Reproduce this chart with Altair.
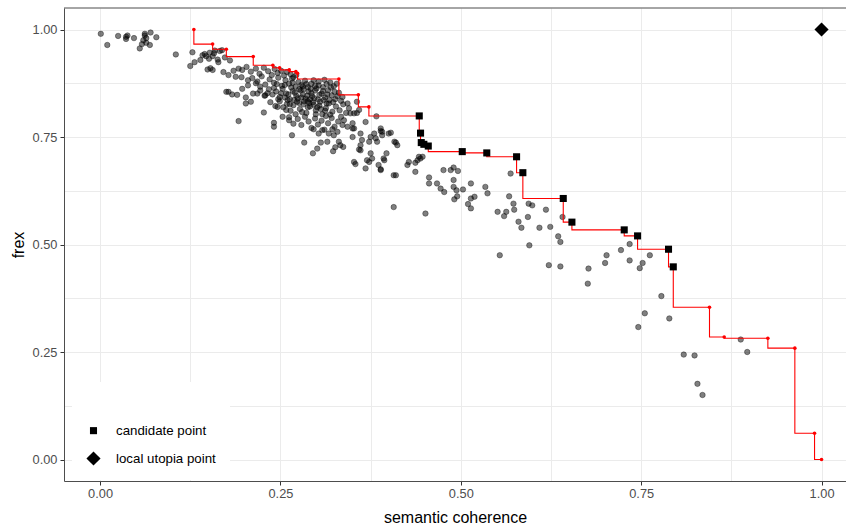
import altair as alt
import pandas as pd

# ---------------- data ----------------
# top-left group
tl_coh = [0.001, 0.010, 0.025, 0.036, 0.038, 0.036, 0.047, 0.055, 0.058, 0.062, 0.062, 0.064, 0.064, 0.070, 0.069, 0.078, 0.060]
tl_frex = [0.990, 0.964, 0.985, 0.983, 0.986, 0.978, 0.980, 0.956, 0.966, 0.990, 0.986, 0.980, 0.969, 0.993, 0.964, 0.982, 0.975]

# upper band 0.10-0.21
up_coh = [0.105, 0.128, 0.125, 0.131, 0.139, 0.142, 0.145, 0.151, 0.152, 0.156, 0.158, 0.159, 0.164, 0.166, 0.169,
          0.163, 0.149, 0.153, 0.156, 0.171, 0.178, 0.185, 0.192, 0.197, 0.196, 0.188, 0.205, 0.173, 0.180, 0.147]
up_frex = [0.942, 0.947, 0.915, 0.924, 0.929, 0.940, 0.943, 0.932, 0.946, 0.938, 0.945, 0.951, 0.924, 0.950, 0.952,
           0.930, 0.907, 0.910, 0.906, 0.901, 0.894, 0.904, 0.909, 0.906, 0.889, 0.890, 0.882, 0.935, 0.928, 0.938]

# lower-left edge of the cluster
ll_coh = [0.175, 0.178, 0.183, 0.190, 0.192, 0.202, 0.202, 0.209, 0.205, 0.197, 0.212, 0.227, 0.218, 0.229, 0.216, 0.222]
ll_frex = [0.855, 0.855, 0.849, 0.848, 0.787, 0.842, 0.828, 0.832, 0.870, 0.862, 0.851, 0.807, 0.851, 0.847, 0.875, 0.867]

# dense core, upper rows
core_a_coh = [0.203, 0.209, 0.216, 0.221, 0.227, 0.233, 0.238, 0.242, 0.246, 0.251, 0.255, 0.259, 0.264, 0.268, 0.272,
              0.211, 0.218, 0.224, 0.229, 0.235, 0.241, 0.247, 0.252, 0.257, 0.262, 0.266, 0.271, 0.275, 0.279, 0.284,
              0.288, 0.293, 0.298, 0.303, 0.309, 0.314, 0.319, 0.324, 0.328, 0.245, 0.281, 0.296, 0.311]
core_a_frex = [0.913, 0.902, 0.909, 0.897, 0.911, 0.903, 0.894, 0.908, 0.899, 0.904, 0.893, 0.901, 0.896, 0.889, 0.894,
               0.887, 0.879, 0.891, 0.872, 0.884, 0.876, 0.888, 0.869, 0.882, 0.874, 0.886, 0.867, 0.878, 0.871, 0.881,
               0.866, 0.874, 0.869, 0.879, 0.866, 0.873, 0.877, 0.868, 0.874, 0.873, 0.868, 0.882, 0.883]

# dense core, middle rows
core_b_coh = [0.222, 0.228, 0.234, 0.239, 0.244, 0.249, 0.253, 0.258, 0.263, 0.267, 0.272, 0.276, 0.281, 0.285, 0.289,
              0.294, 0.298, 0.302, 0.307, 0.312, 0.316, 0.321, 0.326, 0.331, 0.336, 0.261, 0.279, 0.292, 0.304, 0.318,
              0.269, 0.287,
              0.236, 0.243, 0.249, 0.254, 0.259, 0.264, 0.268, 0.273, 0.277, 0.282, 0.286, 0.291, 0.295, 0.299, 0.304,
              0.308, 0.313, 0.317, 0.322, 0.327, 0.332, 0.337, 0.341, 0.288, 0.301, 0.319, 0.271]
core_b_frex = [0.858, 0.846, 0.861, 0.849, 0.856, 0.843, 0.862, 0.851, 0.838, 0.857, 0.846, 0.861, 0.849, 0.839, 0.856,
               0.845, 0.858, 0.837, 0.851, 0.842, 0.859, 0.847, 0.838, 0.853, 0.843, 0.849, 0.842, 0.862, 0.848, 0.836,
               0.836, 0.846,
               0.831, 0.822, 0.833, 0.819, 0.827, 0.811, 0.824, 0.832, 0.815, 0.826, 0.806, 0.821, 0.831, 0.812, 0.823,
               0.803, 0.817, 0.828, 0.809, 0.821, 0.812, 0.826, 0.806, 0.833, 0.819, 0.802, 0.803]

# dense core, lower rows and fill-in of the darkest part
core_c_coh = [0.262, 0.268, 0.274, 0.279, 0.284, 0.289, 0.293, 0.298, 0.302, 0.307, 0.311, 0.316, 0.321, 0.325, 0.330,
              0.334, 0.296, 0.313,
              0.251, 0.256, 0.260, 0.265, 0.270, 0.274, 0.278, 0.283, 0.286, 0.290, 0.293, 0.297, 0.300, 0.305, 0.309,
              0.314, 0.315, 0.320, 0.323, 0.329, 0.256, 0.263, 0.267, 0.276, 0.282, 0.288, 0.291, 0.296, 0.303, 0.306,
              0.310, 0.325, 0.334, 0.247, 0.241, 0.232, 0.258, 0.280, 0.299, 0.312]
core_c_frex = [0.796, 0.781, 0.792, 0.778, 0.797, 0.786, 0.771, 0.793, 0.779, 0.788, 0.767, 0.782, 0.794, 0.774, 0.786,
               0.797, 0.768, 0.799,
               0.852, 0.871, 0.836, 0.865, 0.853, 0.840, 0.858, 0.833, 0.873, 0.829, 0.852, 0.840, 0.863, 0.832, 0.857,
               0.828, 0.849, 0.865, 0.831, 0.845, 0.842, 0.826, 0.876, 0.829, 0.861, 0.819, 0.838, 0.825, 0.870, 0.815,
               0.836, 0.855, 0.834, 0.838, 0.864, 0.852, 0.813, 0.808, 0.803, 0.811]

# middle band 0.24-0.45
mid_coh = [0.283, 0.295, 0.301, 0.306, 0.315, 0.323, 0.326, 0.333, 0.337, 0.331, 0.303, 0.308, 0.317, 0.322, 0.324,
           0.329, 0.343, 0.345, 0.347, 0.338, 0.336, 0.343, 0.350, 0.352, 0.356, 0.361, 0.363, 0.361, 0.368, 0.359,
           0.373, 0.375, 0.380, 0.382, 0.384, 0.389, 0.391, 0.400, 0.410, 0.412, 0.352, 0.354, 0.368, 0.370, 0.373,
           0.377, 0.375, 0.389, 0.386, 0.393, 0.397, 0.410, 0.426, 0.428, 0.437, 0.440, 0.442, 0.383, 0.266, 0.241,
           0.241, 0.253, 0.262, 0.246, 0.352, 0.356, 0.359, 0.350, 0.361, 0.350, 0.389, 0.391, 0.403, 0.408, 0.394,
           0.389, 0.407, 0.444, 0.447, 0.437]
mid_frex = [0.737, 0.712, 0.723, 0.737, 0.739, 0.717, 0.726, 0.731, 0.727, 0.739, 0.758, 0.766, 0.758, 0.768, 0.754,
            0.762, 0.828, 0.817, 0.805, 0.789, 0.778, 0.774, 0.782, 0.770, 0.806, 0.758, 0.743, 0.731, 0.785, 0.721,
            0.739, 0.750, 0.758, 0.747, 0.739, 0.764, 0.754, 0.758, 0.737, 0.731, 0.692, 0.687, 0.677, 0.696, 0.692,
            0.700, 0.712, 0.675, 0.685, 0.700, 0.712, 0.661, 0.685, 0.692, 0.669, 0.696, 0.704, 0.798, 0.754, 0.783,
            0.774, 0.797, 0.789, 0.820, 0.805, 0.832, 0.813, 0.770, 0.719, 0.750, 0.770, 0.762, 0.760, 0.739, 0.696,
            0.673, 0.661, 0.700, 0.704, 0.690]

# lower-middle band 0.40-0.66
lm_coh = [0.451, 0.456, 0.456, 0.467, 0.472, 0.477, 0.476, 0.486, 0.490, 0.496, 0.490, 0.490, 0.494, 0.491, 0.495,
          0.503, 0.514, 0.510, 0.514, 0.514, 0.519, 0.534, 0.537, 0.554, 0.551, 0.560, 0.563, 0.567, 0.573, 0.574,
          0.569, 0.580, 0.584, 0.594, 0.599, 0.593, 0.609, 0.618, 0.624, 0.635, 0.638, 0.595, 0.622, 0.638, 0.641,
          0.407]
lm_frex = [0.572, 0.656, 0.642, 0.642, 0.630, 0.622, 0.673, 0.673, 0.679, 0.671, 0.650, 0.634, 0.626, 0.605, 0.612,
           0.628, 0.642, 0.594, 0.584, 0.607, 0.611, 0.634, 0.619, 0.475, 0.576, 0.566, 0.576, 0.612, 0.595, 0.581,
           0.665, 0.553, 0.539, 0.595, 0.591, 0.564, 0.539, 0.581, 0.541, 0.519, 0.506, 0.498, 0.452, 0.449, 0.564,
           0.587]

# right tail
rt_coh = [0.677, 0.676, 0.702, 0.700, 0.722, 0.734, 0.734, 0.748, 0.752, 0.762, 0.778, 0.755, 0.746, 0.789, 0.809,
          0.824, 0.828, 0.835, 0.888, 0.897]
rt_frex = [0.444, 0.409, 0.475, 0.457, 0.487, 0.501, 0.463, 0.445, 0.457, 0.475, 0.380, 0.340, 0.308, 0.328, 0.244,
           0.242, 0.176, 0.150, 0.279, 0.250]

# Pareto front (in order)
front_coh = [0.130, 0.156, 0.175, 0.2123, 0.2395, 0.2488, 0.2622, 0.2714, 0.2737, 0.331, 0.358, 0.3726,
             0.4424, 0.4442, 0.4452, 0.4488, 0.4549, 0.502, 0.536, 0.5773, 0.586, 0.642, 0.654, 0.7265, 0.745,
             0.7879, 0.7945, 0.8447, 0.8651, 0.9256, 0.963, 0.9903, 1.0]
front_frex = [1.0, 0.966, 0.954, 0.937, 0.917, 0.911, 0.906, 0.902, 0.898, 0.885, 0.848, 0.820,
              0.799, 0.759, 0.737, 0.733, 0.729, 0.716, 0.713, 0.704, 0.667, 0.607, 0.552, 0.534, 0.520,
              0.489, 0.448, 0.354, 0.285, 0.282, 0.259, 0.061, 0.0]

# candidate points
cand_coh = [0.4424, 0.4442, 0.4452, 0.4488, 0.4549, 0.502, 0.536, 0.5773, 0.586, 0.642, 0.654, 0.7265, 0.745, 0.7879, 0.7945]
cand_frex = [0.799, 0.759, 0.737, 0.733, 0.729, 0.716, 0.713, 0.704, 0.667, 0.607, 0.552, 0.534, 0.520, 0.489, 0.448]

# local utopia point
utopia_coh = [1.0]
utopia_frex = [1.0]

legend_labels = ["candidate point", "local utopia point"]
tick_values = [0.0, 0.125, 0.25, 0.375, 0.5, 0.625, 0.75, 0.875, 1.0]

# ---------------- frames ----------------
all_coh = tl_coh + up_coh + ll_coh + core_a_coh + core_b_coh + core_c_coh + mid_coh + lm_coh + rt_coh
all_frex = tl_frex + up_frex + ll_frex + core_a_frex + core_b_frex + core_c_frex + mid_frex + lm_frex + rt_frex
gray_df = pd.DataFrame({"coh": all_coh, "frex": all_frex})
front_df = pd.DataFrame({"coh": front_coh, "frex": front_frex, "ord": list(range(len(front_coh)))})
special_df = pd.DataFrame({
    "coh": cand_coh + utopia_coh,
    "frex": cand_frex + utopia_frex,
    "type": [legend_labels[0]] * len(cand_coh) + [legend_labels[1]] * len(utopia_coh),
})

FONT = "Liberation Sans"
xs = alt.Scale(domain=[-0.05, 1.0339], nice=False, zero=False)
ys = alt.Scale(domain=[-0.05, 1.05], nice=False, zero=False)

label_expr = "datum.value % 0.25 == 0 ? format(datum.value, '.2f') : ''"
tick_op = {"condition": {"test": "datum.value % 0.25 != 0", "value": 0}, "value": 1}

x_axis = alt.Axis(title="semantic coherence", values=tick_values, labelExpr=label_expr,
                  tickOpacity=tick_op, labelPadding=2, titlePadding=10)
y_axis = alt.Axis(title="frex", values=tick_values, labelExpr=label_expr,
                  tickOpacity=tick_op, labelPadding=3, titlePadding=6)

gray = alt.Chart(gray_df).mark_circle(
    size=30, fill="black", fillOpacity=0.5, stroke="black", strokeOpacity=0.45, strokeWidth=0.8
).encode(
    x=alt.X("coh:Q", scale=xs, axis=x_axis),
    y=alt.Y("frex:Q", scale=ys, axis=y_axis),
)

line = alt.Chart(front_df).mark_line(interpolate="step-before", color="#ff0000", strokeWidth=1.1).encode(
    x=alt.X("coh:Q", scale=xs), y=alt.Y("frex:Q", scale=ys), order="ord:Q"
)

reddots = alt.Chart(front_df).mark_circle(size=13, color="#ff0000", opacity=1).encode(
    x=alt.X("coh:Q", scale=xs), y=alt.Y("frex:Q", scale=ys)
)

leg = alt.Legend(title=" ", orient="none", legendX=8, legendY=374, padding=14, fillColor="white",
                 labelFont=FONT, labelFontSize=13.3, labelColor="black", titleFontSize=14,
                 titlePadding=14, rowPadding=14, labelOffset=15, symbolStrokeWidth=0)

special = alt.Chart(special_df).mark_point(filled=True, color="black", opacity=1).encode(
    x=alt.X("coh:Q", scale=xs), y=alt.Y("frex:Q", scale=ys),
    shape=alt.Shape("type:N", scale=alt.Scale(domain=legend_labels, range=["square", "diamond"]), legend=leg),
    size=alt.Size("type:N", scale=alt.Scale(domain=legend_labels, range=[50, 200]), legend=leg),
)

top_border = alt.Chart(pd.DataFrame({"v": [1.05]})).mark_rule(color="#4d4d4d", strokeWidth=1).encode(
    y=alt.Y("v:Q", scale=ys)
)

chart = alt.layer(gray, line, reddots, special, top_border).properties(
    width=782, height=473,
    autosize=alt.AutoSizeParams(type="none"),
    padding={"left": 64, "top": 8, "right": 0, "bottom": 45},
    background="white",
).configure_view(stroke=None).configure_axis(
    labelFont=FONT, labelFontSize=12.8, labelColor="#4d4d4d",
    titleFont=FONT, titleFontSize=16, titleColor="black", titleFontWeight="normal",
    tickColor="#333333", tickSize=4, tickWidth=1,
    domain=True, domainColor="#4d4d4d", domainWidth=1,
    grid=True, gridColor="#ebebeb", gridWidth=1,
).configure_legend(labelFont=FONT)

chart.save("out.html", embed_options={"renderer": "svg", "actions": False})
